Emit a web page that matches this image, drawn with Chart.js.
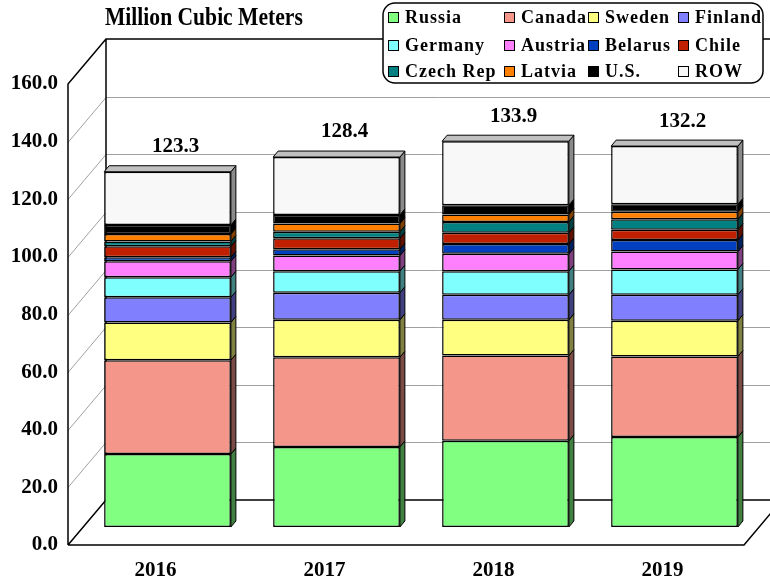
<!DOCTYPE html>
<html><head><meta charset="utf-8">
<script src="https://cdn.jsdelivr.net/npm/chart.js@4/dist/chart.umd.min.js"></script>
<style>html,body{margin:0;padding:0;background:#fff}#wrap{width:770px;height:581px;position:relative}</style>
</head><body><div id="wrap"><canvas id="c" width="770" height="581"></canvas></div>
<script>
const years   = ['2016', '2017', '2018', '2019'];
const russia  = [25.3, 27.8, 29.9, 31.2];
const canada  = [32.6, 31.1, 29.6, 28.0];
const sweden  = [13.1, 13.0, 12.4, 12.4];
const finland = [8.7, 9.4, 8.7, 9.0];
const germany = [7.0, 7.5, 8.2, 8.8];
const austria = [5.5, 5.4, 6.0, 6.2];
const belarus = [1.4, 2.2, 3.4, 4.0];
const chile   = [3.8, 3.8, 3.9, 3.6];
const czech   = [1.7, 2.3, 3.8, 3.6];
const latvia  = [2.6, 2.8, 2.6, 2.6];
const us      = [3.1, 3.0, 3.2, 2.6];
const rowWorld = [18.5, 20.1, 22.2, 20.2];
const totals  = [123.3, 128.4, 133.9, 132.2];
const yTicks  = [0, 20, 40, 60, 80, 100, 120, 140, 160];
const titleText = 'Million Cubic Meters';

const seriesNames  = ['Russia','Canada','Sweden','Finland','Germany','Austria','Belarus','Chile','Czech Rep','Latvia','U.S.','ROW'];
const seriesData   = [russia, canada, sweden, finland, germany, austria, belarus, chile, czech, latvia, us, rowWorld];
const seriesColors = ['#80FF80','#F4978A','#FFFF80','#8080FF','#80FFFF','#FF80FF','#0040C0','#C02000','#008080','#FF8000','#000000','#F8F8F8'];

const SERIF = '"Liberation Serif","Times New Roman",serif';
const FX = -15, FY = 18, BX = 23, BY = -27; // front / back wall offsets
const DX = 5, DY = 6; // bar depth

function darken(hex, f) {
  const n = parseInt(hex.slice(1), 16);
  const r = Math.round(((n >> 16) & 255) * f), g = Math.round(((n >> 8) & 255) * f), b = Math.round((n & 255) * f);
  return `rgb(${r},${g},${b})`;
}

const frame3d = {
  id: 'frame3d',
  beforeDatasetsDraw(chart) {
    const {ctx, chartArea: a, scales: {y}} = chart;
    const fl = a.left + FX, bl = a.left + BX, br = a.right + BX, fr = a.right + FX;
    const p0 = y.getPixelForValue(yTicks[0]), p1 = y.getPixelForValue(yTicks[yTicks.length - 1]);
    ctx.save();
    ctx.strokeStyle = '#a0a0a0'; ctx.lineWidth = 1;
    for (let k = 1; k < yTicks.length - 1; k++) {
      const p = Math.round(y.getPixelForValue(yTicks[k])) + 0.5;
      ctx.beginPath();
      ctx.moveTo(fl, p + FY); ctx.lineTo(bl, p + BY); ctx.lineTo(br, p + BY);
      ctx.stroke();
    }
    ctx.strokeStyle = '#000'; ctx.lineWidth = 1.5;
    ctx.beginPath();
    ctx.moveTo(fl, p0 + FY); ctx.lineTo(fl, p1 + FY); ctx.lineTo(bl, p1 + BY); ctx.lineTo(br, p1 + BY);
    ctx.moveTo(bl, p1 + BY); ctx.lineTo(bl, p0 + BY);
    ctx.moveTo(fl, p0 + FY); ctx.lineTo(bl, p0 + BY); ctx.lineTo(br, p0 + BY);
    ctx.moveTo(fl, p0 + FY); ctx.lineTo(fr, p0 + FY); ctx.lineTo(br, p0 + BY);
    ctx.stroke();
    ctx.restore();
  },
  afterDatasetsDraw(chart) {
    const {ctx} = chart;
    const n = chart.data.datasets.length;
    ctx.save();
    ctx.strokeStyle = '#000'; ctx.lineWidth = 1; ctx.lineJoin = 'round';
    for (let i = 0; i < n; i++) {
      const meta = chart.getDatasetMeta(i);
      const col = chart.data.datasets[i].backgroundColor;
      meta.data.forEach((el) => {
        const r = el.x + el.width / 2, l = el.x - el.width / 2, t = el.y, b = el.base;
        ctx.fillStyle = i === n - 1 ? '#8a8a8a' : darken(col, 0.5);
        ctx.beginPath();
        ctx.moveTo(r, t); ctx.lineTo(r + DX, t - DY); ctx.lineTo(r + DX, b - DY); ctx.lineTo(r, b); ctx.closePath();
        ctx.fill(); ctx.stroke();
        if (i === n - 1) {
          ctx.fillStyle = '#c0c0c0';
          ctx.beginPath();
          ctx.moveTo(l, t); ctx.lineTo(l + DX, t - DY); ctx.lineTo(r + DX, t - DY); ctx.lineTo(r, t); ctx.closePath();
          ctx.fill(); ctx.stroke();
        }
      });
    }
    // totals
    const top = chart.getDatasetMeta(n - 1);
    ctx.fillStyle = '#000';
    ctx.font = 'bold 21px ' + SERIF;
    ctx.textAlign = 'center'; ctx.textBaseline = 'middle';
    top.data.forEach((el, j) => {
      ctx.fillText(totals[j].toFixed(1), el.x + 8, el.y - 25);
    });
    ctx.restore();
  },
  afterDraw(chart) {
    const {ctx} = chart;
    ctx.save();
    // title
    ctx.translate(105, 18);
    ctx.scale(0.83, 1);
    ctx.fillStyle = '#000';
    ctx.font = 'bold 26px ' + SERIF;
    ctx.textAlign = 'left'; ctx.textBaseline = 'middle';
    ctx.fillText(titleText, 0, 0);
    ctx.restore();
    // legend
    ctx.save();
    const bx = 383, by = 3, bw = 380, bh = 80;
    ctx.fillStyle = '#fff'; ctx.strokeStyle = '#000'; ctx.lineWidth = 1.5;
    ctx.beginPath(); ctx.roundRect(bx, by, bw, bh, 12); ctx.fill(); ctx.stroke();
    const cols = [5, 121, 205, 295], rows = [14, 42, 68];
    ctx.font = 'bold 18px ' + SERIF;
    ctx.textBaseline = 'middle'; ctx.textAlign = 'left';
    if ('letterSpacing' in ctx) ctx.letterSpacing = '1px';
    chart.data.datasets.forEach((ds, i) => {
      const cx = bx + cols[i % 4], cy = by + rows[Math.floor(i / 4)];
      ctx.fillStyle = ds.backgroundColor;
      ctx.fillRect(cx, cy - 5, 10, 10);
      ctx.lineWidth = 1; ctx.strokeStyle = '#000';
      ctx.strokeRect(cx + 0.5, cy - 4.5, 10, 10);
      ctx.fillStyle = '#000';
      ctx.fillText(ds.label, cx + 17, cy + 1);
    });
    ctx.restore();
  }
};

new Chart(document.getElementById('c'), {
  type: 'bar',
  data: {
    labels: years,
    datasets: seriesNames.map((name, i) => ({
      label: name,
      data: seriesData[i],
      backgroundColor: seriesColors[i],
      borderColor: '#000',
      borderWidth: 1.5,
      borderSkipped: false,
      categoryPercentage: 0.75,
      barPercentage: 1
    }))
  },
  options: {
    responsive: false,
    animation: false,
    devicePixelRatio: 1,
    layout: {padding: {top: 66, right: 11, left: 0, bottom: 0}},
    plugins: {legend: {display: false}, tooltip: {enabled: false}, title: {display: false}},
    scales: {
      x: {
        stacked: true,
        grid: {display: false, drawTicks: false},
        border: {display: false},
        ticks: {color: '#000', font: {family: SERIF, size: 21, weight: 'bold'}, labelOffset: -12, padding: 31, maxRotation: 0},
        afterFit: (s) => { s.height = 54; }
      },
      y: {
        stacked: true,
        min: 0, max: 160,
        grid: {display: false, drawTicks: false},
        border: {display: false},
        ticks: {stepSize: 20, color: '#000', font: {family: SERIF, size: 21, weight: 'bold'}, labelOffset: 18, padding: 25,
                callback: (v) => Number(v).toFixed(1)},
        afterFit: (s) => { s.width = 83; }
      }
    }
  },
  plugins: [frame3d]
});
</script>
</body></html>
